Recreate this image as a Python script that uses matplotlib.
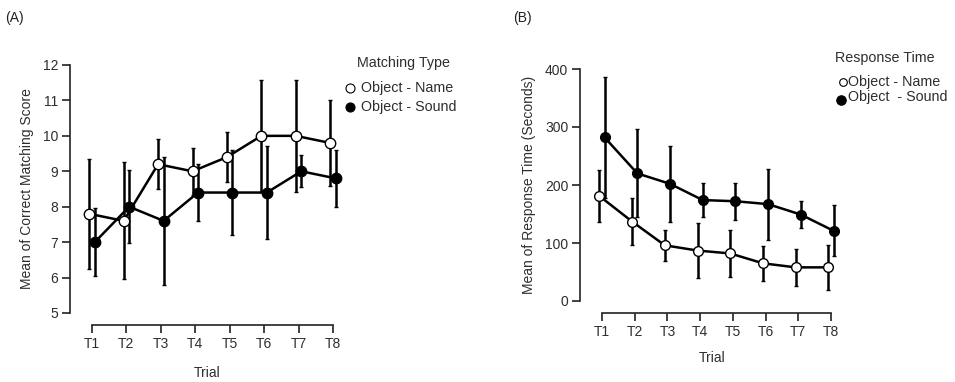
import matplotlib
matplotlib.use("Agg")
import matplotlib.pyplot as plt
import numpy as np
from matplotlib.lines import Line2D

plt.rcParams['font.family'] = ['Liberation Sans', 'DejaVu Sans']

trials = ["T1", "T2", "T3", "T4", "T5", "T6", "T7", "T8"]

name_score = [7.8, 7.6, 9.2, 9.0, 9.4, 10.0, 10.0, 9.8]
name_score_err = [1.56, 1.65, 0.7, 0.67, 0.7, 1.58, 1.58, 1.22]
sound_score = [7.0, 8.0, 7.6, 8.4, 8.4, 8.4, 9.0, 8.8]
sound_score_err = [0.95, 1.03, 1.8, 0.8, 1.2, 1.3, 0.45, 0.81]

name_rt = [181, 137, 96, 87, 82, 65, 58, 58]
name_rt_err = [45, 40, 27, 47, 40, 30, 32, 39]
sound_rt = [282, 220, 202, 174, 172, 167, 149, 121]
sound_rt_err = [105, 76, 66, 30, 32, 61, 23, 44]

legend_labels_A = ["Object - Name", "Object - Sound"]
legend_labels_B = ["Object - Name", "Object  - Sound"]

W, H = 955, 382
fig = plt.figure(figsize=(W / 100, H / 100), dpi=100)

def fx(px):
    return px / W

def fy(py):
    return 1 - py / H

axA = fig.add_axes([fx(70), fy(313), fx(345) - fx(70), fy(65) - fy(313)])
axB = fig.add_axes([fx(580), fy(301), fx(845) - fx(580), fy(69) - fy(301)])

x = np.arange(1, len(trials) + 1)
dodge = 0.08
grey = "#2e2e2e"

def style(ax, ylo, yhi, yticks, ylabel, xlabelpad, ylabelpad):
    ax.set_ylim(ylo, yhi)
    ax.set_yticks(yticks)
    ax.set_xticks(x)
    ax.set_xticklabels(trials)
    for s in ["top", "right"]:
        ax.spines[s].set_visible(False)
    ax.spines["left"].set_bounds(ylo, yhi)
    ax.spines["bottom"].set_bounds(1, 8)
    ax.spines["bottom"].set_position(("outward", 8.6))
    for s in ["left", "bottom"]:
        ax.spines[s].set_linewidth(1.2)
        ax.spines[s].set_color("#222222")
    ax.tick_params(axis="both", direction="out", length=5.5, width=1.2,
                   color="#222222", labelsize=10, labelcolor=grey, pad=3)
    ax.set_ylabel(ylabel, fontsize=10, color=grey, labelpad=ylabelpad)
    ax.set_xlabel("Trial", fontsize=10, color=grey, labelpad=xlabelpad)
    ax.patch.set_alpha(0)

def plot_series(ax, y, err, offset, face, ms):
    ax.errorbar(x + offset, y, yerr=err, color="black", lw=1.8,
                elinewidth=1.8, capsize=1.5, capthick=1.5,
                marker="o", markersize=ms, markerfacecolor=face,
                markeredgecolor="black", markeredgewidth=1.0, zorder=3)

# Panel A
plot_series(axA, sound_score, sound_score_err, dodge, "black", 7.5)
plot_series(axA, name_score, name_score_err, -dodge, "white", 7.5)
style(axA, 5, 12, np.arange(5, 13, 1), "Mean of Correct Matching Score", 11, 6)
axA.set_xlim(1 - 22 / 34.4, 8.35)

# Panel B
plot_series(axB, sound_rt, sound_rt_err, dodge, "black", 7)
plot_series(axB, name_rt, name_rt_err, -dodge, "white", 7)
style(axB, 0, 400, np.arange(0, 401, 100), "Mean of Response Time (Seconds)", 9, 6)
axB.set_xlim(1 - 22 / 32.7, 8.43)

# Manual legends
def marker_at(px, py, face, ms):
    fig.add_artist(Line2D([fx(px)], [fy(py)], transform=fig.transFigure,
                          ls="none", marker="o", markersize=ms,
                          markerfacecolor=face, markeredgecolor="black",
                          markeredgewidth=0.8))

def text_at(px, py, s):
    fig.text(fx(px), fy(py), s, fontsize=10.3, color=grey, ha="left", va="center")

# Legend A
text_at(357, 63, "Matching Type")
marker_at(350, 88, "white", 6.5)
text_at(361, 88, legend_labels_A[0])
marker_at(350, 107, "black", 6.5)
text_at(361, 107, legend_labels_A[1])

# Legend B
text_at(835, 58, "Response Time")
marker_at(843, 82, "white", 5.5)
text_at(848, 82, legend_labels_B[0])
marker_at(841, 100, "black", 6.8)
text_at(848, 97, legend_labels_B[1])

fig.text(fx(5), fy(18), "(A)", fontsize=10, color="#222222", va="center", ha="left")
fig.text(fx(513), fy(18), "(B)", fontsize=10, color="#222222", va="center", ha="left")

fig.savefig("out.png", dpi=100)
